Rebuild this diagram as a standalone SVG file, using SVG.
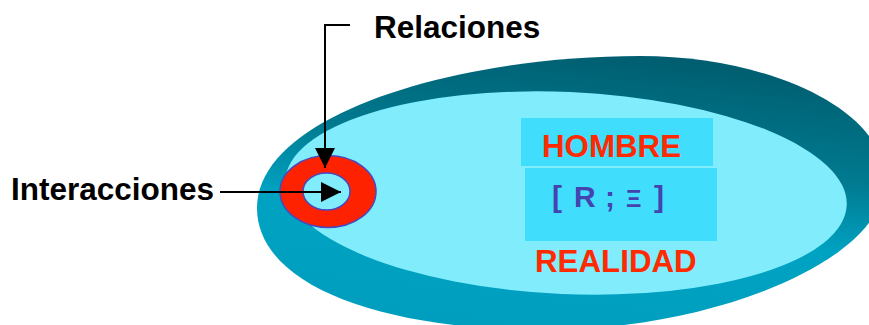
<svg xmlns="http://www.w3.org/2000/svg" width="869" height="325" viewBox="0 0 869 325">
<defs>
<linearGradient id="disc" x1="0.6" y1="0" x2="0.35" y2="1">
<stop offset="0" stop-color="#005E70"/>
<stop offset="0.35" stop-color="#007A90"/>
<stop offset="0.6" stop-color="#00A2C2"/>
<stop offset="1" stop-color="#009EBE"/>
</linearGradient>
<marker id="arr" viewBox="0 0 20 20" refX="20" refY="10" markerWidth="20" markerHeight="20" markerUnits="userSpaceOnUse" orient="auto">
<path d="M0,0 L20,10 L0,20 Z" fill="#000"/>
</marker>
<style>
.lbl{font-family:"Liberation Sans",Arial,sans-serif;font-weight:bold;font-size:31.5px;fill:#000}
.red{font-family:"Liberation Sans",Arial,sans-serif;font-weight:bold;font-size:31.3px;fill:#FF2A00}
.sym{font-family:"Liberation Sans",Arial,sans-serif;font-weight:bold;font-size:30px;fill:#4444B0}
.box{fill:#40DDFC}
.line{stroke:#000;stroke-width:2;fill:none}
</style>
</defs>
<g id="disc-node">
<path d="M257,208 C257,115 455,56 640,56 C770,56 885,110 885,180 C885,262 710,330 545,330 C380,330 257,285 257,208 Z" fill="url(#disc)"/>
<ellipse cx="566" cy="193" rx="281" ry="101" transform="rotate(2.5 566 193)" fill="#80ECFC"/>
</g>
<g id="hombre-node">
<rect class="box" x="521" y="118" width="192" height="48"/>
<text class="red" x="542" y="157">HOMBRE</text>
</g>
<g id="formula-node">
<rect class="box" x="525" y="168" width="192" height="73"/>
<text class="sym" y="206.5"><tspan x="552">[</tspan><tspan x="574">R</tspan><tspan x="605">;</tspan><tspan x="626" font-size="24">Ξ</tspan><tspan x="654">]</tspan></text>
</g>
<g id="realidad-node">
<text class="red" x="535" y="272">REALIDAD</text>
</g>
<g id="ring-node">
<path d="M280,191.5 a48,36 0 1,0 96,0 a48,36 0 1,0 -96,0 Z M303,191.5 a23.5,18.5 0 1,1 47,0 a23.5,18.5 0 1,1 -47,0 Z" fill="#FF2200" fill-rule="evenodd" stroke="#4848C0" stroke-width="1.5"/>
</g>
<g id="relaciones-node">
<text class="lbl" x="374" y="38">Relaciones</text>
</g>
<g id="interacciones-node">
<text class="lbl" x="11" y="200">Interacciones</text>
</g>
<g id="connectors">
<path class="line" d="M350,25 L325,25 L325,168" marker-end="url(#arr)"/>
<path class="line" d="M220,192 L341,192" marker-end="url(#arr)"/>
</g>
</svg>
